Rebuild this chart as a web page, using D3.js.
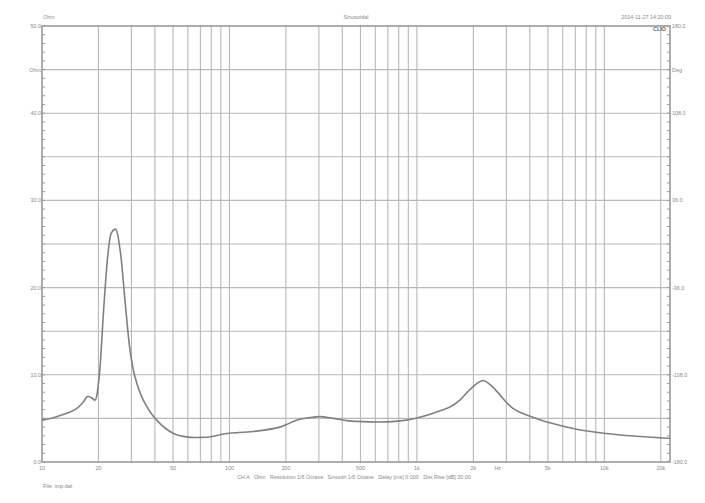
<!DOCTYPE html>
<html>
<head>
<meta charset="utf-8">
<script src="https://cdn.jsdelivr.net/npm/d3@7"></script>
<style>
  body { margin: 0; background: #fff; }
  svg text { font-family: "Liberation Sans", Arial, sans-serif; fill: #8a8a8a; }
</style>
</head>
<body>
<svg width="705" height="503"></svg>
<script>
// impedance curve
const freqs = [10, 12, 15, 16.5, 17.5, 18.3, 19.2, 20, 20.4, 21.5, 22.6, 23.5, 24.7,
  26.1, 27.7, 29.5, 31.3, 34.7, 40.9, 50, 60, 70, 80, 90, 100, 134, 186, 202, 228,
  269, 304, 358, 422, 561, 689, 881, 1000, 1222, 1500, 1696, 1917, 2124, 2258, 2450,
  2773, 3000, 3250, 3545, 3846, 5120, 6820, 9460, 14250, 20600, 22400];
const ohms = [4.8, 5.2, 6.0, 6.8, 7.5, 7.4, 7.1, 9.0, 10.9, 18.6, 24.3, 26.3, 26.7,
  24.3, 18.6, 12.8, 9.8, 7.1, 4.8, 3.3, 2.85, 2.82, 2.9, 3.15, 3.3, 3.5, 4.0, 4.3, 4.8,
  5.1, 5.2, 5.0, 4.75, 4.6, 4.6, 4.8, 5.05, 5.6, 6.3, 7.1, 8.3, 9.1, 9.35, 8.9,
  7.7, 6.85, 6.15, 5.7, 5.4, 4.5, 3.85, 3.36, 2.98, 2.75, 2.72];

const xTicks = [10, 20, 50, 100, 200, 500, 1000, 2000, 5000, 10000, 20000];
const xTickLabels = ["10", "20", "50", "100", "200", "500", "1k", "2k", "5k", "10k", "20k"];
const leftTicks = [50, 45, 40, 30, 20, 10, 0];
const leftTickLabels = ["50.0", "Ohm", "40.0", "30.0", "20.0", "10.0", "0.0"];
const rightTicks = [180, 144, 108, 36, -36, -108, -180];
const rightTickLabels = ["180.0", "Deg", "108.0", "36.0", "-36.0", "-108.0", "-180.0"];

const svg = d3.select("svg");
const pLeft = 42, pRight = 670, pTop = 26, pBottom = 462;

const x = d3.scaleLog().domain([10, 22400]).range([pLeft, pRight]);
const y = d3.scaleLinear().domain([0, 50]).range([pBottom, pTop]);
const yPhase = d3.scaleLinear().domain([-180, 180]).range([pBottom, pTop]);

// grid
const vGrid = [];
[10, 100, 1000, 10000].forEach(function (dec) {
  for (let m = 1; m <= 9; m++) {
    if (dec * m > 10 && dec * m <= 20000) vGrid.push(dec * m);
  }
});
svg.append("g")
  .selectAll("line")
  .data(vGrid)
  .join("line")
  .attr("x1", function (d) { return x(d); })
  .attr("x2", function (d) { return x(d); })
  .attr("y1", pTop)
  .attr("y2", pBottom)
  .attr("stroke", "#b8b8b8")
  .attr("stroke-width", 1.1);

svg.append("g")
  .selectAll("line")
  .data(d3.range(5, 50, 5))
  .join("line")
  .attr("x1", pLeft)
  .attr("x2", pRight)
  .attr("y1", function (d) { return y(d); })
  .attr("y2", function (d) { return y(d); })
  .attr("stroke", "#b8b8b8")
  .attr("stroke-width", 1.1);

// minor ticks on both sides
svg.append("g")
  .selectAll("line")
  .data(d3.range(0, 51, 1))
  .join("line")
  .attr("x1", pLeft)
  .attr("x2", pLeft + 3)
  .attr("y1", function (d) { return y(d); })
  .attr("y2", function (d) { return y(d); })
  .attr("stroke", "#999");
svg.append("g")
  .selectAll("line")
  .data(d3.range(-180, 181, 7.2))
  .join("line")
  .attr("x1", pRight - 3)
  .attr("x2", pRight)
  .attr("y1", function (d) { return yPhase(d); })
  .attr("y2", function (d) { return yPhase(d); })
  .attr("stroke", "#999");

// frame
svg.append("rect")
  .attr("x", pLeft)
  .attr("y", pTop)
  .attr("width", pRight - pLeft)
  .attr("height", pBottom - pTop)
  .attr("fill", "none")
  .attr("stroke", "#9a9a9a")
  .attr("stroke-width", 1.6);

// curve
const line = d3.line()
  .x(function (d) { return x(d[0]); })
  .y(function (d) { return y(d[1]); })
  .curve(d3.curveCatmullRom.alpha(0.5));
svg.append("path")
  .datum(d3.zip(freqs, ohms))
  .attr("d", line)
  .attr("fill", "none")
  .attr("stroke", "#808080")
  .attr("stroke-width", 1.6);

// tick labels
const fs = 5.4;
svg.append("g")
  .selectAll("text")
  .data(xTicks)
  .join("text")
  .attr("x", function (d) { return x(d); })
  .attr("y", 470)
  .attr("text-anchor", "middle")
  .attr("font-size", fs)
  .text(function (d, i) { return xTickLabels[i]; });
svg.append("text")
  .attr("x", x(2700))
  .attr("y", 470)
  .attr("text-anchor", "middle")
  .attr("font-size", fs)
  .text("Hz");

svg.append("g")
  .selectAll("text")
  .data(leftTicks)
  .join("text")
  .attr("x", 41)
  .attr("y", function (d) { return y(d) + 2; })
  .attr("text-anchor", "end")
  .attr("font-size", fs)
  .text(function (d, i) { return leftTickLabels[i]; });

svg.append("g")
  .selectAll("text")
  .data(rightTicks)
  .join("text")
  .attr("x", 672)
  .attr("y", function (d) { return yPhase(d) + 2; })
  .attr("text-anchor", "start")
  .attr("font-size", fs)
  .text(function (d, i) { return rightTickLabels[i]; });

// header / footer
svg.append("text").attr("x", 43).attr("y", 19).attr("font-size", fs).text("Ohm");
svg.append("text").attr("x", 356).attr("y", 19).attr("text-anchor", "middle")
  .attr("font-size", fs).text("Sinusoidal");
svg.append("text").attr("x", 671).attr("y", 19).attr("text-anchor", "end")
  .attr("font-size", fs).text("2014-11-27 14:20:09");
svg.append("text").attr("x", 666).attr("y", 31).attr("text-anchor", "end")
  .attr("font-size", fs).attr("font-weight", "bold").style("fill", "#666").text("CLIO");
svg.append("text").attr("x", 354).attr("y", 479).attr("text-anchor", "middle")
  .attr("font-size", fs).attr("xml:space", "preserve")
  .text("CH A   Ohm   Resolution 1/6 Octave   Smooth 1/6 Octave   Delay [ms] 0.000   Dist Rise [dB] 30.00");
svg.append("text").attr("x", 43).attr("y", 488).attr("font-size", fs).text("File: imp.dat");
</script>
</body>
</html>
